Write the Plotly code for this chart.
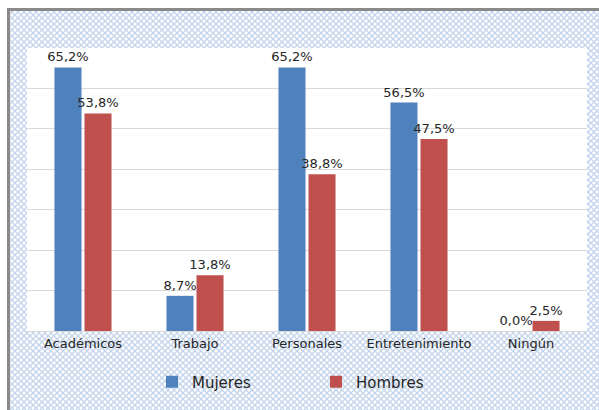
import base64
import plotly.graph_objects as go

categories = ["Académicos", "Trabajo", "Personales", "Entretenimiento", "Ningún"]
mujeres = [65.2, 8.7, 65.2, 56.5, 0.0]
hombres = [53.8, 13.8, 38.8, 47.5, 2.5]

W, H = 599, 410
L, R, T, B = 27, 12, 48, 79
pw, ph = W - L - R, H - T - B
FONT = "DejaVu Sans"

def fmt(v):
    return f"{v:.1f}".replace(".", ",") + "%"

# decorative background: hatch pattern, grey frame, white plot area
svg = f'''<svg xmlns="http://www.w3.org/2000/svg" width="{W}" height="{H}" viewBox="0 0 {W} {H}">
<defs><pattern id="p" width="6" height="6" patternUnits="userSpaceOnUse">
<rect width="6" height="6" fill="#ffffff"/>
<path d="M0,0 L6,6 M6,0 L0,6" stroke="#c3d4ec" stroke-width="1.3"/>
</pattern></defs>
<rect width="{W}" height="{H}" fill="#ffffff"/>
<rect x="10" y="11" width="{W-10}" height="{H-11}" fill="url(#p)"/>
<path d="M8.5,{H} L8.5,9.5 L{W},9.5" fill="none" stroke="#8a8a8a" stroke-width="3"/>
<rect x="{L}" y="{T}" width="{pw}" height="{ph}" fill="#ffffff"/>
</svg>'''
src = "data:image/svg+xml;base64," + base64.b64encode(svg.encode()).decode()

fig = go.Figure()
fig.add_trace(go.Bar(name="Mujeres", x=categories, y=mujeres, marker_color="#4f81bd",
                     text=[fmt(v) for v in mujeres], textposition="outside", cliponaxis=False))
fig.add_trace(go.Bar(name="Hombres", x=categories, y=hombres, marker_color="#c0504d",
                     text=[fmt(v) for v in hombres], textposition="outside", cliponaxis=False))

fig.update_traces(textfont=dict(size=13, color="#262626", family=FONT), marker_line_width=0)

fig.update_layout(
    width=W, height=H,
    margin=dict(l=L, r=R, t=T, b=B),
    paper_bgcolor="#ffffff", plot_bgcolor="#ffffff",
    barmode="group", bargap=0.464, bargroupgap=0.1,
    uniformtext=dict(minsize=13, mode="show"),
    font=dict(family=FONT, size=13, color="#262626"),
    showlegend=True,
    legend=dict(orientation="h", x=0.5 + 9 / pw, xanchor="center", y=-0.18, yanchor="middle",
                font=dict(size=15), bgcolor="rgba(0,0,0,0)", entrywidth=119,
                itemwidth=30),
    images=[dict(source=src, xref="paper", yref="paper",
                 x=-L / pw, y=1 + T / ph, sizex=W / pw, sizey=H / ph,
                 xanchor="left", yanchor="top", sizing="stretch", layer="below")],
)
fig.update_xaxes(showline=True, linecolor="#d9d9d9", linewidth=1, ticks="",
                 tickfont=dict(size=13), fixedrange=True)
fig.update_yaxes(range=[0, 70], dtick=10, showticklabels=False, showgrid=True,
                 gridcolor="#d9d9d9", gridwidth=1, zeroline=False, ticks="", fixedrange=True)

fig.write_html("out.html", config={"displayModeBar": False},
               post_script="document.body.style.margin='0';")
